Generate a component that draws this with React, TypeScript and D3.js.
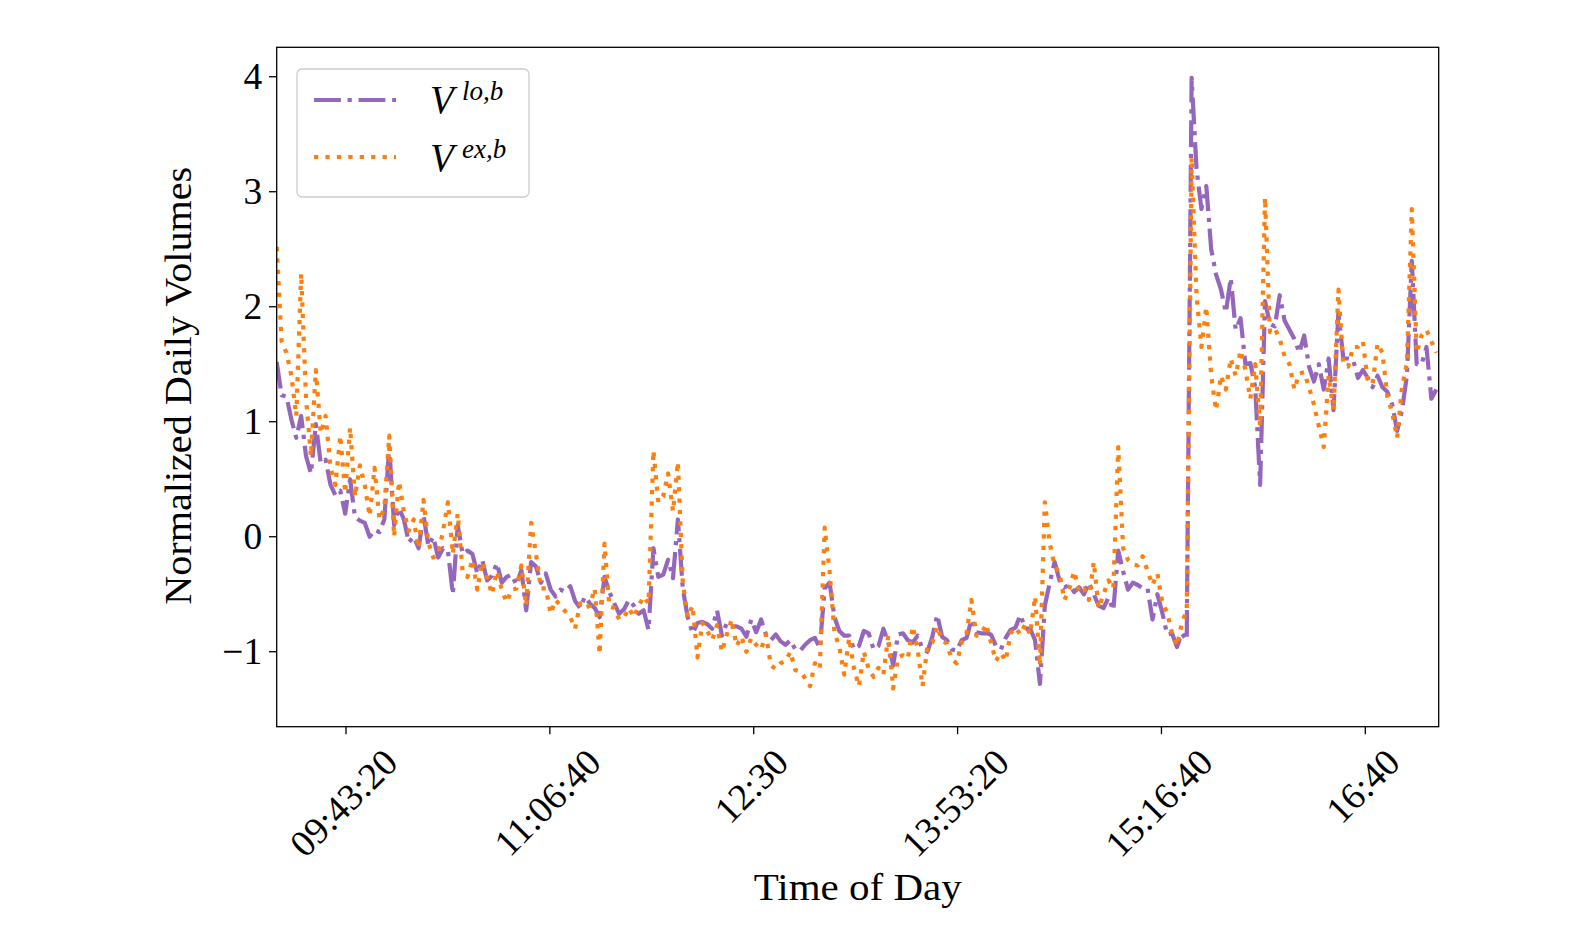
import React, { useEffect, useRef } from "react";
import * as d3 from "d3";

// ---------------- data ----------------
const START_TIME = "09:15";
const END_TIME = "17:10";
const STEP_MINUTES = 2;

const X_TICK_LABELS = ["09:43:20", "11:06:40", "12:30", "13:53:20", "15:16:40", "16:40"];
const Y_TICKS = [-1, 0, 1, 2, 3, 4];
const Y_MIN = -1.652;
const Y_MAX = 4.256;

const X_LABEL = "Time of Day";
const Y_LABEL = "Normalized Daily Volumes";
const SERIES_SUPERSCRIPTS = ["lo,b", "ex,b"];

// V^{lo,b}, one value every 2 minutes from 09:15
const V_LO: number[] = [
  1.52, 1.23, 1.22, 1.02, 0.86, 1.05, 0.70, 0.55, 0.98, 0.64,
  0.67, 0.45, 0.36, 0.40, 0.20, 0.50, 0.17, 0.14, 0.12, 0.00,
  0.06, 0.04, 0.15, 0.78, 0.10, 0.25, 0.15, -0.05, 0.00, -0.10,
  0.19, -0.08, 0.00, -0.18, -0.10, -0.12, -0.50, 0.10, -0.15, -0.12,
  -0.15, -0.32, -0.20, -0.38, -0.34, -0.23, -0.40, -0.35, -0.33, -0.42,
  -0.29, -0.64, -0.22, -0.26, -0.40, -0.32, -0.46, -0.52, -0.46, -0.48,
  -0.43, -0.56, -0.62, -0.52, -0.58, -0.62, -0.70, -0.35, -0.48, -0.58,
  -0.67, -0.63, -0.55, -0.60, -0.67, -0.64, -0.81, -0.10,
  -0.35, -0.33, -0.20, -0.36, 0.15, -0.45, -0.70, -0.84, -0.75, -0.74,
  -0.76, -0.80, -0.64, -0.86, -0.75, -0.78, -0.78, -0.80, -0.87, -0.72,
  -0.83, -0.72, -0.85, -0.90, -0.85, -0.91, -0.94, -0.90, -0.98, -0.99,
  -0.94, -0.90, -0.88, -0.97, -0.45, -0.40, -0.70, -0.82, -0.86,
  -0.86, -0.98, -0.95, -0.82, -0.84, -0.98, -0.95, -0.80, -0.92, -1.12,
  -0.85, -0.84, -0.90, -0.92, -0.86, -0.98, -1.00, -0.87, -0.68, -0.87,
  -0.90, -0.98, -0.99, -0.90, -0.88, -0.72, -0.83, -0.84, -0.84, -0.85,
  -0.95, -0.98, -0.88, -0.81, -0.79, -0.68, -0.80, -0.80, -0.90,
  -1.28, -0.60, -0.40, -0.22, -0.38, -0.44, -0.42, -0.48, -0.44, -0.50,
  -0.40, -0.50, -0.60, -0.62, -0.53, -0.64, -0.12, -0.30, -0.46, -0.40,
  -0.42, -0.45, -0.45, -0.72, -0.50, -0.66, -0.85, -0.84, -0.96, -0.84,
  -0.90, 3.99, 3.20, 2.85, 3.05, 2.50, 2.28,
  2.15, 1.95, 2.25, 1.80, 1.90, 1.50, 1.51, 1.30, 0.45, 2.05,
  1.85, 1.83, 2.10, 1.88, 1.80, 1.72, 1.60, 1.75, 1.48, 1.35,
  1.50, 1.28, 1.55, 1.10, 1.95, 1.55, 1.55, 1.54, 1.38, 1.45,
  1.38, 1.30, 1.40, 1.30, 1.26, 1.15, 0.92, 1.10, 1.40, 2.40,
  1.50, 1.50, 1.65, 1.20, 1.28,
];

// V^{ex,b}, same time grid
const V_EX: number[] = [
  2.52, 1.70, 1.60, 1.40, 1.05, 2.29, 1.20, 0.70, 1.45, 0.90,
  1.05, 0.60, 0.45, 0.88, 0.38, 0.95, 0.35, 0.62, 0.45, 0.18,
  0.60, 0.15, 0.25, 0.88, 0.00, 0.48, 0.22, 0.05, 0.15, -0.10,
  0.32, -0.05, -0.18, -0.15, 0.05, 0.30, -0.15, 0.20, -0.30, -0.35,
  -0.20, -0.46, -0.22, -0.36, -0.50, -0.30, -0.46, -0.57, -0.46, -0.45,
  -0.25, -0.60, 0.12, -0.15, -0.45, -0.45, -0.67, -0.55, -0.60, -0.65,
  -0.70, -0.80, -0.58, -0.62, -0.60, -0.45, -1.02, -0.06, -0.61, -0.62,
  -0.72, -0.70, -0.62, -0.70, -0.60, -0.52, -0.58, 0.75,
  0.30, 0.35, 0.55, 0.22, 0.65, -0.40, -0.70, -0.60, -1.05, -0.75,
  -0.82, -0.90, -0.77, -1.00, -0.85, -0.72, -0.95, -0.87, -1.00, -0.88,
  -0.94, -0.98, -0.85, -1.12, -1.15, -1.10, -1.08, -1.00, -1.16, -1.17,
  -1.23, -1.30, -1.10, -1.15, 0.08, -0.30, -0.83, -0.96, -1.20,
  -0.88, -1.15, -1.30, -1.00, -1.15, -1.22, -1.14, -1.20, -0.86, -1.32,
  -1.05, -1.03, -1.06, -0.78, -0.98, -1.30, -0.95, -0.92, -0.78, -0.90,
  -0.93, -1.07, -1.10, -0.92, -0.84, -0.55, -0.86, -0.85, -0.76, -0.92,
  -1.08, -1.01, -1.08, -0.84, -0.79, -0.85, -0.76, -0.85, -0.52,
  -1.12, 0.30, -0.06, -0.25, -0.32, -0.55, -0.45, -0.30, -0.48, -0.45,
  -0.55, -0.22, -0.62, -0.50, -0.38, -0.45, 0.78, -0.10, -0.20, -0.24,
  -0.25, -0.17, -0.30, -0.42, -0.32, -0.57, -0.66, -0.84, -0.95, -0.75,
  -0.64, 3.30, 2.10, 1.65, 2.00, 1.40, 1.10,
  1.40, 1.28, 1.55, 1.40, 1.62, 1.45, 1.20, 1.50, 0.96, 2.95,
  1.78, 1.81, 1.72, 1.57, 1.50, 1.28, 1.42, 1.43, 1.30, 1.15,
  0.96, 0.78, 1.40, 1.10, 2.15, 1.50, 1.48, 1.65, 1.65, 1.70,
  1.35, 1.33, 1.68, 1.60, 1.22, 1.08, 0.86, 1.30, 1.51, 2.85,
  1.60, 1.75, 1.80, 1.70, 1.60,
];

// ---------------- layout ----------------
const W = 1581;
const H = 944;
const PLOT = { left: 276.7, right: 1438.7, top: 47.3, bottom: 726.7 };
const FONT = "'Liberation Serif', 'Times New Roman', serif";
const TICK_FONT = 37.5;
const LO_COLOR = "#9467bd";
const EX_COLOR = "#ff7f0e";
const LW = 4.2;
const LO_DASH = `${6.4 * LW} ${1.6 * LW} ${1 * LW} ${1.6 * LW}`;
const EX_DASH = `${1.02 * LW} ${1.7 * LW}`;

function toMinutes(s: string): number {
  const p = s.split(":").map(Number);
  return p[0] * 60 + p[1] + (p[2] || 0) / 60;
}

export default function App() {
  const ref = useRef<SVGSVGElement | null>(null);

  useEffect(() => {
    if (!ref.current) return;
    const svg = d3.select(ref.current);
    svg.selectAll("*").remove();

    const t0 = toMinutes(START_TIME);
    const x = d3.scaleLinear().domain([t0, toMinutes(END_TIME)]).range([PLOT.left, PLOT.right]);
    const y = d3.scaleLinear().domain([Y_MIN, Y_MAX]).range([PLOT.bottom, PLOT.top]);

    const line = d3
      .line<number>()
      .x((_, i) => x(t0 + i * STEP_MINUTES))
      .y((d) => y(d));

    svg
      .append("defs")
      .append("clipPath")
      .attr("id", "plotclip")
      .append("rect")
      .attr("x", PLOT.left)
      .attr("y", PLOT.top)
      .attr("width", PLOT.right - PLOT.left)
      .attr("height", PLOT.bottom - PLOT.top);

    const g = svg.append("g").attr("clip-path", "url(#plotclip)");
    g.append("path")
      .attr("d", line(V_LO) || "")
      .attr("fill", "none")
      .attr("stroke", LO_COLOR)
      .attr("stroke-width", LW)
      .attr("stroke-dasharray", LO_DASH)
      .attr("stroke-linejoin", "round")
      .attr("stroke-linecap", "butt");
    g.append("path")
      .attr("d", line(V_EX) || "")
      .attr("fill", "none")
      .attr("stroke", EX_COLOR)
      .attr("stroke-width", LW)
      .attr("stroke-dasharray", EX_DASH)
      .attr("stroke-linejoin", "round")
      .attr("stroke-linecap", "butt");

    // spines
    svg
      .append("rect")
      .attr("x", PLOT.left)
      .attr("y", PLOT.top)
      .attr("width", PLOT.right - PLOT.left)
      .attr("height", PLOT.bottom - PLOT.top)
      .attr("fill", "none")
      .attr("stroke", "#000")
      .attr("stroke-width", 1.3);

    // y ticks
    const yt = svg.append("g");
    Y_TICKS.forEach((v) => {
      const yy = y(v);
      yt.append("line")
        .attr("x1", PLOT.left - 7.7)
        .attr("x2", PLOT.left)
        .attr("y1", yy)
        .attr("y2", yy)
        .attr("stroke", "#000")
        .attr("stroke-width", 1.3);
      yt.append("text")
        .attr("x", PLOT.left - 14.5)
        .attr("y", yy)
        .attr("dy", "0.34em")
        .attr("text-anchor", "end")
        .attr("font-family", FONT)
        .attr("font-size", TICK_FONT)
        .text(v < 0 ? "\u2212" + Math.abs(v) : String(v));
    });

    // x ticks
    const xt = svg.append("g");
    X_TICK_LABELS.forEach((lab) => {
      const xx = x(toMinutes(lab));
      xt.append("line")
        .attr("x1", xx)
        .attr("x2", xx)
        .attr("y1", PLOT.bottom)
        .attr("y2", PLOT.bottom + 7.5)
        .attr("stroke", "#000")
        .attr("stroke-width", 1.3);
      const t = xt
        .append("text")
        .attr("text-anchor", "middle")
        .attr("dy", "0.34em")
        .attr("font-family", FONT)
        .attr("font-size", TICK_FONT)
        .text(lab);
      const L = (t.node() as SVGTextElement).getComputedTextLength();
      const hh = 0.66 * TICK_FONT;
      const cx = xx - 2.5;
      const cy = 747 + (L + hh) / (2 * Math.SQRT2);
      t.attr("x", cx).attr("y", cy).attr("transform", `rotate(-45 ${cx} ${cy})`);
    });

    // axis labels
    svg
      .append("text")
      .attr("x", (PLOT.left + PLOT.right) / 2)
      .attr("y", 900)
      .attr("text-anchor", "middle")
      .attr("font-family", FONT)
      .attr("font-size", 38)
      .attr("textLength", 208)
      .attr("lengthAdjust", "spacingAndGlyphs")
      .text(X_LABEL);
    svg
      .append("text")
      .attr("x", 191.5)
      .attr("y", 385.8)
      .attr("text-anchor", "middle")
      .attr("font-family", FONT)
      .attr("font-size", 38)
      .attr("textLength", 438)
      .attr("lengthAdjust", "spacingAndGlyphs")
      .attr("transform", "rotate(-90 191.5 385.8)")
      .text(Y_LABEL);

    // legend
    const lg = svg.append("g");
    lg.append("rect")
      .attr("x", 297)
      .attr("y", 69)
      .attr("width", 232)
      .attr("height", 128)
      .attr("rx", 5)
      .attr("fill", "#fff")
      .attr("fill-opacity", 0.8)
      .attr("stroke", "#cccccc")
      .attr("stroke-width", 1.3);
    const rows = [
      { yy: 100, base: 113, color: LO_COLOR, dash: LO_DASH, sup: SERIES_SUPERSCRIPTS[0] },
      { yy: 157, base: 170.7, color: EX_COLOR, dash: EX_DASH, sup: SERIES_SUPERSCRIPTS[1] },
    ];
    rows.forEach((r) => {
      lg.append("line")
        .attr("x1", 314)
        .attr("x2", 396)
        .attr("y1", r.yy)
        .attr("y2", r.yy)
        .attr("stroke", r.color)
        .attr("stroke-width", LW)
        .attr("stroke-dasharray", r.dash)
        .attr("stroke-linecap", "butt");
      const t = lg
        .append("text")
        .attr("x", 430)
        .attr("y", r.base)
        .attr("font-family", FONT)
        .attr("font-style", "italic")
        .attr("font-size", 39);
      t.append("tspan").text("V");
      t.append("tspan")
        .attr("x", 462)
        .attr("dy", -13)
        .attr("font-size", 27)
        .text(r.sup);
    });
  }, []);

  return (
    <svg
      ref={ref}
      width={W}
      height={H}
      viewBox={`0 0 ${W} ${H}`}
      style={{ position: "absolute", left: 0, top: 0, background: "#fff" }}
    />
  );
}
